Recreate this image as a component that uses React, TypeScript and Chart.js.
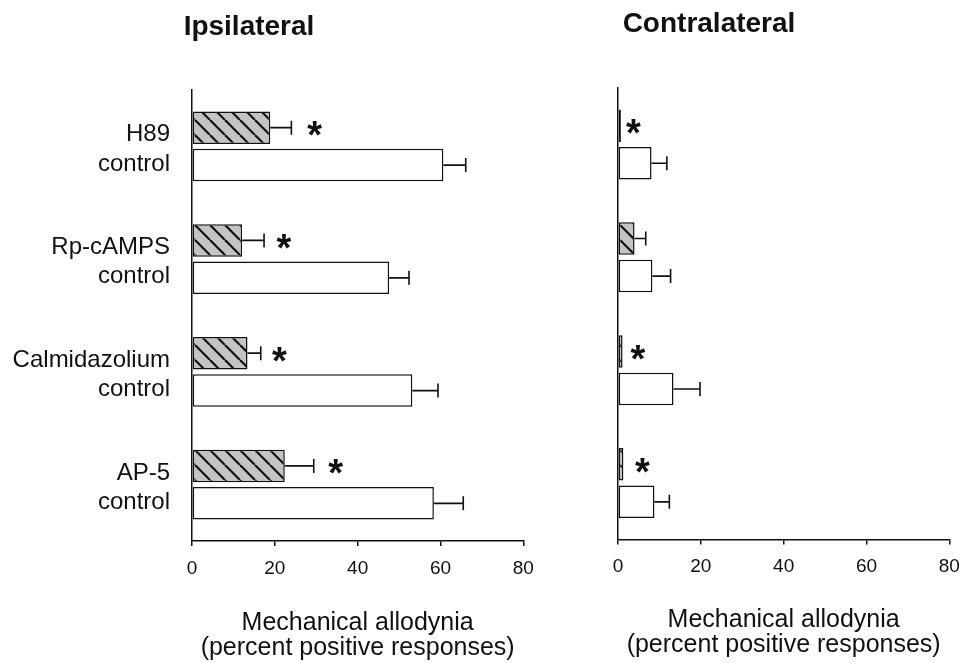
import React, { useEffect, useRef } from "react";
import { Chart, registerables } from "chart.js";

Chart.register(...registerables);

// ---------- data ----------
const categories: string[][] = [
  ["H89", "control"],
  ["Rp-cAMPS", "control"],
  ["Calmidazolium", "control"],
  ["AP-5", "control"],
];
const xTicks = [0, 20, 40, 60, 80];
const xTitle = ["Mechanical allodynia", "(percent positive responses)"];

const ipsiTreated = [18.9, 12.1, 13.4, 22.4];
const ipsiTreatedErr = [5.1, 5.3, 3.2, 7.0];
const ipsiControl = [60.7, 47.6, 53.2, 58.4];
const ipsiControlErr = [5.4, 4.8, 6.2, 7.1];
const ipsiStars: (number | null)[] = [29.6, 22.2, 21.1, 34.7];

const contraTreated = [0.7, 4.0, 1.1, 1.3];
const contraTreatedErr = [0, 2.7, 0, 0];
const contraControl = [8.1, 8.3, 13.4, 8.8];
const contraControlErr = [3.7, 4.4, 6.4, 3.6];
const contraStars: (number | null)[] = [3.7, null, 4.8, 5.9];

// ---------- styling ----------
const FAMILY = "'Liberation Sans', Arial, Helvetica, sans-serif";
const INK = "#111";
const H = 663;

function makeHatch(): CanvasPattern | string {
  const s = 15;
  const c = document.createElement("canvas");
  c.width = s;
  c.height = s;
  const g = c.getContext("2d");
  if (!g) return "#c4c4c4";
  g.fillStyle = "#c4c4c4";
  g.fillRect(0, 0, s, s);
  g.strokeStyle = "#111";
  g.lineWidth = 2.2;
  for (const off of [-s, 0, s]) {
    g.beginPath();
    g.moveTo(off, 0);
    g.lineTo(off + s, s);
    g.stroke();
  }
  const p = g.createPattern(c, "repeat");
  return p || "#c4c4c4";
}

const panelPlugin = {
  id: "panelExtras",
  afterDatasetsDraw(chart: any, _args: any, opts: any) {
    const ctx: CanvasRenderingContext2D = chart.ctx;
    const xs = chart.scales.x;
    ctx.save();
    ctx.strokeStyle = INK;
    ctx.lineWidth = 1.6;
    chart.data.datasets.forEach((ds: any, di: number) => {
      const meta = chart.getDatasetMeta(di);
      const errs: number[] = opts.errors[di];
      meta.data.forEach((bar: any, i: number) => {
        const e = errs[i];
        if (!e) return;
        const v = ds.data[i];
        const x0 = xs.getPixelForValue(v);
        const x1 = xs.getPixelForValue(v + e);
        const y = bar.y;
        ctx.beginPath();
        ctx.moveTo(x0, y);
        ctx.lineTo(x1, y);
        ctx.moveTo(x1, y - 7);
        ctx.lineTo(x1, y + 7);
        ctx.stroke();
      });
    });
    // significance asterisks
    const meta0 = chart.getDatasetMeta(0);
    ctx.fillStyle = INK;
    ctx.font = `bold 38px ${FAMILY}`;
    ctx.textAlign = "center";
    ctx.textBaseline = "alphabetic";
    const m = ctx.measureText("*");
    const asc = m.actualBoundingBoxAscent;
    const desc = m.actualBoundingBoxDescent;
    (opts.stars as (number | null)[]).forEach((s, i) => {
      if (s == null) return;
      const x = xs.getPixelForValue(s);
      const cy = meta0.data[i].y + 1;
      ctx.fillText("*", x, cy + (asc - desc) / 2);
    });
    ctx.restore();
  },
  afterDraw(chart: any, _args: any, opts: any) {
    const ctx: CanvasRenderingContext2D = chart.ctx;
    ctx.save();
    ctx.fillStyle = INK;
    ctx.font = `bold 28px ${FAMILY}`;
    ctx.textAlign = "center";
    ctx.textBaseline = "alphabetic";
    ctx.fillText(opts.title, opts.titleX, opts.titleY);
    ctx.restore();
  },
};

type PanelProps = {
  title: string;
  titleX: number;
  titleY: number;
  treated: number[];
  treatedErr: number[];
  control: number[];
  controlErr: number[];
  stars: (number | null)[];
  showLabels: boolean;
  width: number;
  left: number;
  area: { left: number; right: number; top: number; bottom: number };
  titlePadBottom: number;
};

function Panel(p: PanelProps) {
  const ref = useRef<HTMLCanvasElement | null>(null);
  useEffect(() => {
    if (!ref.current) return;
    const hatch = makeHatch();
    const chart = new Chart(ref.current, {
      type: "bar",
      data: {
        labels: categories,
        datasets: [
          {
            data: p.treated,
            backgroundColor: hatch as any,
            borderColor: INK,
            borderWidth: 1.5,
            borderSkipped: false,
          },
          {
            data: p.control,
            backgroundColor: "#ffffff",
            borderColor: INK,
            borderWidth: 1.5,
            borderSkipped: false,
          },
        ],
      },
      options: {
        indexAxis: "y",
        responsive: false,
        animation: false,
        events: [],
        layout: {
          padding: { top: p.area.top, right: p.width - p.area.right, left: 0, bottom: 0 },
        },
        datasets: { bar: { categoryPercentage: 0.665, barPercentage: 0.867 } },
        plugins: {
          legend: { display: false },
          tooltip: { enabled: false },
          title: { display: false },
          panelExtras: {
            errors: [p.treatedErr, p.controlErr],
            stars: p.stars,
            title: p.title,
            titleX: p.titleX,
            titleY: p.titleY,
          },
        } as any,
        scales: {
          x: {
            min: xTicks[0],
            max: xTicks[xTicks.length - 1],
            afterBuildTicks: (s: any) => {
              s.ticks = xTicks.map((v) => ({ value: v }));
            },
            afterFit: (s: any) => {
              s.height = H - p.area.bottom;
            },
            grid: {
              display: true,
              drawOnChartArea: false,
              drawTicks: true,
              tickLength: 5,
              color: INK,
              lineWidth: 1.5,
            },
            border: { display: true, color: INK, width: 1.5 },
            ticks: {
              padding: 11,
              color: INK,
              maxRotation: 0,
              font: { size: 19, family: FAMILY },
            },
            title: {
              display: true,
              text: xTitle,
              color: INK,
              font: { size: 25, family: FAMILY, lineHeight: 1.0 },
              padding: { top: 0, bottom: p.titlePadBottom },
            },
          },
          y: {
            afterFit: (s: any) => {
              s.width = p.area.left;
            },
            grid: { display: false, drawTicks: false },
            border: { display: true, color: INK, width: 1.5 },
            ticks: {
              display: p.showLabels,
              padding: 22,
              labelOffset: 3,
              color: INK,
              font: { size: 24, family: FAMILY, lineHeight: 1.22 },
            },
          },
        },
      } as any,
      plugins: [panelPlugin as any],
    });
    return () => chart.destroy();
  }, []);
  return (
    <canvas
      ref={ref}
      width={p.width}
      height={H}
      style={{ position: "absolute", left: p.left, top: 0, width: p.width, height: H }}
    />
  );
}

export default function App() {
  return (
    <div style={{ position: "absolute", left: 0, top: 0, width: 960, height: H, background: "#fff", overflow: "hidden" }}>
      <Panel
        title="Ipsilateral"
        titleX={249}
        titleY={35}
        treated={ipsiTreated}
        treatedErr={ipsiTreatedErr}
        control={ipsiControl}
        controlErr={ipsiControlErr}
        stars={ipsiStars}
        showLabels={true}
        width={560}
        left={0}
        area={{ left: 192, right: 523.3, top: 90, bottom: 541 }}
        titlePadBottom={2}
      />
      <Panel
        title="Contralateral"
        titleX={149}
        titleY={32}
        treated={contraTreated}
        treatedErr={contraTreatedErr}
        control={contraControl}
        controlErr={contraControlErr}
        stars={contraStars}
        showLabels={false}
        width={430}
        left={560}
        area={{ left: 58, right: 389.3, top: 88, bottom: 539.5 }}
        titlePadBottom={5}
      />
    </div>
  );
}
